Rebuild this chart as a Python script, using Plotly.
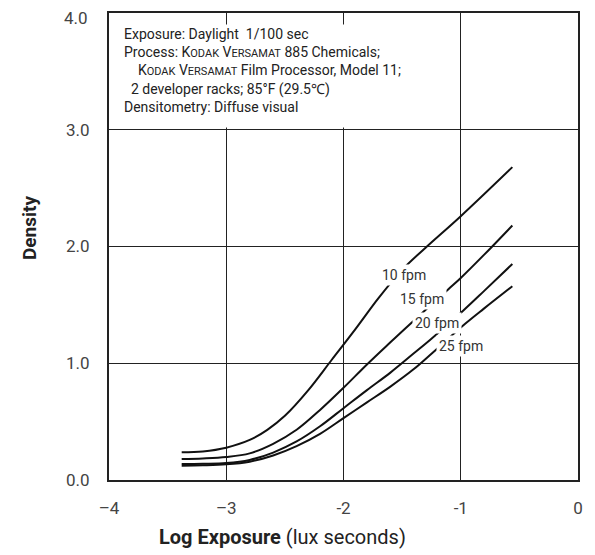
"""Characteristic curves (density vs log exposure) at four processor speeds."""

import plotly.graph_objects as go

FONT = "Roboto, Liberation Sans, sans-serif"

# Curves: log exposure -> density
x_10fpm = [-3.38, -3.2, -3.0, -2.8, -2.65, -2.5, -2.3, -2.1, -1.9,
           -1.7, -1.5, -1.3, -1.0, -0.56]
y_10fpm = [0.237, 0.245, 0.277, 0.343, 0.43, 0.55, 0.77, 1.03, 1.29,
           1.56, 1.80, 1.99, 2.26, 2.68]

x_15fpm = [-3.38, -3.2, -3.0, -2.8, -2.6, -2.4, -2.2, -2.0, -1.8,
           -1.6, -1.45, -1.11, -1.0, -0.8, -0.56]
y_15fpm = [0.18, 0.185, 0.197, 0.228, 0.31, 0.43, 0.60, 0.79, 0.99,
           1.18, 1.32, 1.63, 1.73, 1.93, 2.18]

x_20fpm = [-3.38, -3.2, -3.0, -2.8, -2.6, -2.4, -2.2, -2.0, -1.8,
           -1.6, -1.4, -1.25, -0.98, -0.8, -0.56]
y_20fpm = [0.137, 0.139, 0.145, 0.172, 0.235, 0.33, 0.46, 0.615, 0.77,
           0.92, 1.085, 1.21, 1.45, 1.62, 1.85]

x_25fpm = [-3.38, -3.2, -3.0, -2.8, -2.6, -2.4, -2.2, -2.0, -1.8,
           -1.6, -1.4, -1.24, -0.96, -0.8, -0.56]
y_25fpm = [0.123, 0.126, 0.134, 0.157, 0.21, 0.29, 0.395, 0.53, 0.665,
           0.80, 0.95, 1.09, 1.34, 1.47, 1.66]

# Curve labels and where they sit on the chart
curve_labels = ["10 fpm", "15 fpm", "20 fpm", "25 fpm"]
label_x = [-1.48, -1.33, -1.20, -0.995]
label_y = [1.76, 1.55, 1.345, 1.15]

x_ticks = [-4, -3, -2, -1, 0]
x_tick_text = ["\u20134", "\u20133", "-2", "-1", "0"]
y_ticks = [0, 1, 2, 3, 4]
y_tick_text = ["0.0", "1.0", "2.0", "3.0", "4.0"]


def small_caps(word):
    """Fake small caps: first letter full size, the rest smaller."""
    return f"{word[0]}<span style='font-size:11px'>{word[1:]}</span>"


kodak = small_caps("KODAK")
versamat = small_caps("VERSAMAT")
nb = "\u00a0"
note_text = "<br>".join([
    f"Exposure: Daylight{nb}{nb}1/100 sec",
    f"Process: {kodak} {versamat} 885 Chemicals;",
    f"{nb * 4}{kodak} {versamat} Film Processor, Model 11;",
    f"{nb * 2}2 developer racks; 85\u00b0F (29.5\u2103)",
    "Densitometry: Diffuse visual",
])

fig = go.Figure()

for xs, ys in [(x_10fpm, y_10fpm), (x_15fpm, y_15fpm),
               (x_20fpm, y_20fpm), (x_25fpm, y_25fpm)]:
    fig.add_trace(
        go.Scatter(
            x=xs,
            y=ys,
            mode="lines",
            line={"color": "#111111", "width": 2, "shape": "spline",
                  "smoothing": 1.0},
            showlegend=False,
            hoverinfo="skip",
        )
    )

# White-backed labels break the curves and grid lines like the original
for text, lx, ly in zip(curve_labels, label_x, label_y):
    fig.add_annotation(
        x=lx, y=ly, xref="x", yref="y",
        text=text,
        showarrow=False,
        font={"family": FONT, "size": 14, "color": "#333333"},
        bgcolor="white",
        borderpad=2,
    )

# Exposure / process note, on a white box that hides the grid behind it
fig.add_annotation(
    x=-3.89, y=3.91, xref="x", yref="y",
    xanchor="left", yanchor="top",
    width=284, height=100,
    text=note_text,
    align="left", valign="top",
    showarrow=False,
    font={"family": FONT, "size": 14, "color": "#222222"},
    bgcolor="white",
    borderpad=1,
)

# Top tick label sits a little below the frame, as in the original
fig.add_annotation(
    x=0, y=y_ticks[-1], xref="paper", yref="y",
    xanchor="right", yanchor="middle",
    xshift=-19, yshift=-5,
    text=y_tick_text[-1],
    showarrow=False,
    font={"family": FONT, "size": 17, "color": "#444444"},
)

# Axis titles are off-centre in the original, so place them by hand
fig.add_annotation(
    x=-0.168, y=0.54, xref="paper", yref="paper",
    xanchor="center", yanchor="middle",
    text="<b>Density</b>",
    textangle=-90,
    showarrow=False,
    font={"family": FONT, "size": 19, "color": "#222222"},
)
fig.add_annotation(
    x=0.369, y=-0.122, xref="paper", yref="paper",
    xanchor="center", yanchor="middle",
    text="<b>Log Exposure</b> (lux seconds)",
    showarrow=False,
    font={"family": FONT, "size": 20, "color": "#222222"},
)

axis_common = dict(
    showgrid=True,
    gridcolor="#222222",
    gridwidth=1,
    showline=True,
    linecolor="#222222",
    linewidth=2,
    mirror=True,
    ticks="",
    zeroline=False,
    automargin=False,
    tickfont={"family": FONT, "size": 17, "color": "#444444"},
)

fig.update_xaxes(
    range=[-4, 0],
    tickvals=x_ticks,
    ticktext=x_tick_text,
    ticklabelstandoff=12,
    **axis_common,
)
fig.update_yaxes(
    range=[0, 4],
    tickvals=y_ticks[:-1],
    ticktext=y_tick_text[:-1],
    ticklabelstandoff=14,
    **axis_common,
)

# the page body adds an 8px offset, so the figure is 8px smaller each way
fig.update_layout(
    width=587,
    height=547,
    margin={"l": 101, "r": 17, "t": 5, "b": 75},
    plot_bgcolor="white",
    paper_bgcolor="white",
)

fig.write_html("out.html")
